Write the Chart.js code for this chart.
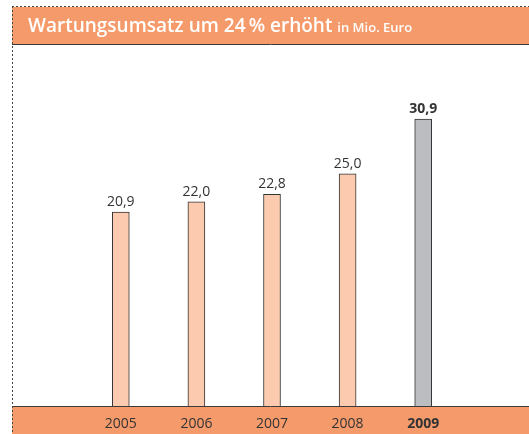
<!DOCTYPE html>
<html>
<head>
<meta charset="utf-8">
<script src="https://cdn.jsdelivr.net/npm/chart.js@4"></script>
<style>
  body { margin: 0; background: #fff; }
  #wrap { position: relative; width: 529px; height: 434px; }
  #title {
    position: absolute; left: 28px; top: 12px;
    font-family: "Open Sans", sans-serif; font-weight: 600;
    font-size: 19px; color: #fff; white-space: nowrap;
  }
  #title small { font-size: 13px; font-weight: 600; }
</style>
</head>
<body>
<div id="wrap">
  <canvas id="umsatz" width="529" height="434"></canvas>
  <div id="title">Wartungsumsatz um 24&#8201;% erhöht <small>in Mio. Euro</small></div>
</div>
<script>
// data
var years = ['2005', '2006', '2007', '2008', '2009'];
var umsatz = [20.9, 22.0, 22.8, 25.0, 30.9];
var labels = ['20,9', '22,0', '22,8', '25,0', '30,9'];
var hiIndex = 4;   // 2009 is highlighted

var orange = '#F59B6B';
var peach = '#FCCBAF';
var grey = '#BCBDC1';

// bands, dashed frame
var frame = {
  id: 'frame',
  beforeDraw: function (chart) {
    var c = chart.ctx;
    c.save();
    c.fillStyle = orange;
    c.fillRect(12, 7, 517, 37);
    c.fillRect(12, 407, 517, 27);
    c.strokeStyle = '#3a3a3a';
    c.lineWidth = 1;
    c.beginPath();
    c.moveTo(12, 44.5); c.lineTo(529, 44.5);
    c.moveTo(12, 406.5); c.lineTo(529, 406.5);
    c.stroke();
    c.setLineDash([2, 2]);
    c.strokeStyle = '#444';
    c.beginPath();
    c.moveTo(12, 6.5); c.lineTo(529, 6.5);
    c.moveTo(12.5, 6); c.lineTo(12.5, 434);
    c.stroke();
    c.restore();
  }
};

// value labels on top of the bars
var valueLabels = {
  id: 'valueLabels',
  afterDatasetsDraw: function (chart) {
    var c = chart.ctx;
    var meta = chart.getDatasetMeta(0);
    c.save();
    c.fillStyle = '#333';
    c.textAlign = 'center';
    c.textBaseline = 'bottom';
    meta.data.forEach(function (bar, i) {
      c.font = (i === hiIndex ? 'bold ' : '') + '14px "Open Sans", sans-serif';
      c.fillText(labels[i], bar.x, bar.y - 3);
    });
    c.restore();
  }
};

var ctx = document.getElementById('umsatz').getContext('2d');
new Chart(ctx, {
  type: 'bar',
  data: {
    labels: years,
    datasets: [{
      data: umsatz,
      backgroundColor: umsatz.map(function (v, i) { return i === hiIndex ? grey : peach; }),
      borderColor: '#333',
      borderWidth: 1,
      borderSkipped: 'bottom',
      barThickness: 17
    }]
  },
  options: {
    responsive: false,
    animation: false,
    layout: { padding: { left: 83, right: 68, top: 44, bottom: 0 } },
    plugins: { legend: { display: false }, tooltip: { enabled: false } },
    scales: {
      x: {
        grid: { display: false, drawTicks: false, tickLength: 0 },
        border: { display: false },
        afterFit: function (scale) { scale.height = 28; },
        ticks: {
          padding: 10,
          color: '#333',
          font: function (c) {
            return { family: '"Open Sans", sans-serif', size: 14, weight: c.index === hiIndex ? 'bold' : 'normal' };
          }
        }
      },
      y: { display: false, min: 0, max: 39 }
    }
  },
  plugins: [frame, valueLabels]
});
</script>
</body>
</html>
